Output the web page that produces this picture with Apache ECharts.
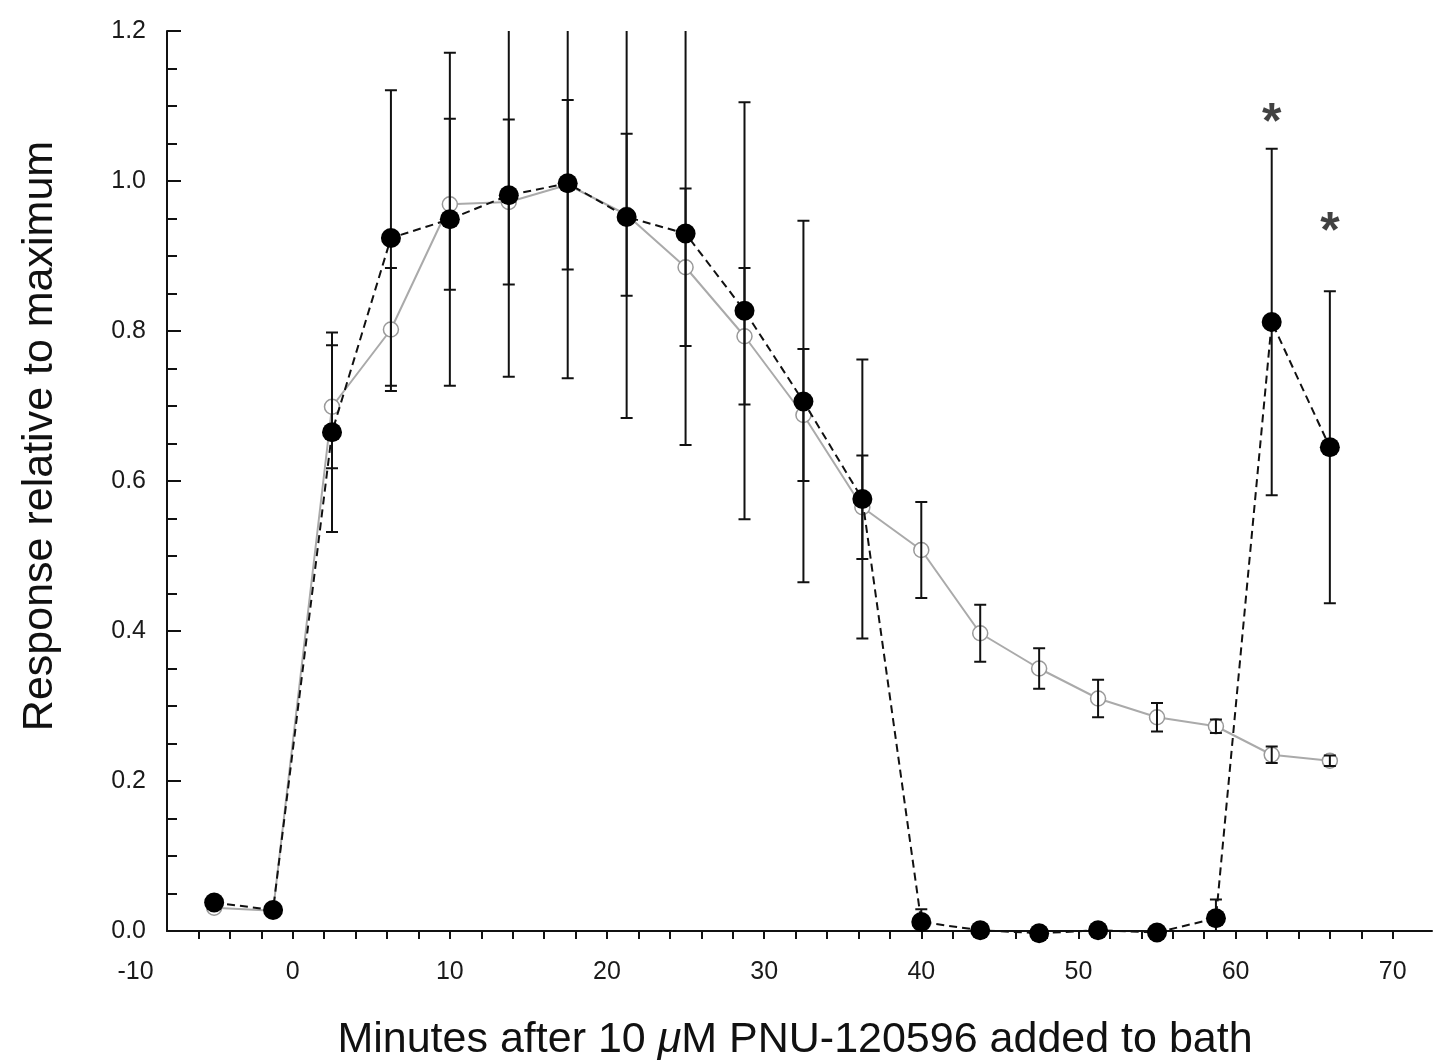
<!DOCTYPE html>
<html>
<head>
<meta charset="utf-8">
<script src="https://cdn.jsdelivr.net/npm/echarts@6/dist/echarts.min.js"></script>
<style>
html,body{margin:0;padding:0;background:#fff;}
#chart{width:1434px;height:1062px;}
</style>
</head>
<body>
<div id="chart"></div>
<script>
// ---- data ----
var minutes = [-5, -1.25, 2.5, 6.25, 10, 13.75, 17.5, 21.25, 25, 28.75, 32.5, 36.25, 40, 43.75, 47.5, 51.25, 55, 58.75, 62.3, 66.0];
var filledMean = [0.038, 0.028, 0.665, 0.924, 0.949, 0.981, 0.997, 0.952, 0.930, 0.827, 0.706, 0.576, 0.012, 0.001, -0.003, 0.001, -0.002, 0.017, 0.812, 0.645];
var filledErr  = [0, 0, 0.133, 0.197, 0.222, 0.242, 0.260, 0.268, 0.282, 0.278, 0.241, 0.186, 0.017, 0, 0, 0, 0, 0.025, 0.231, 0.208];
var openMean = [0.031, 0.027, 0.699, 0.802, 0.969, 0.972, 0.995, 0.955, 0.885, 0.793, 0.688, 0.565, 0.508, 0.397, 0.350, 0.310, 0.285, 0.273, 0.235, 0.227];
var openErr  = [0, 0, 0.082, 0.082, 0.114, 0.110, 0.113, 0.108, 0.105, 0.091, 0.088, 0.069, 0.064, 0.038, 0.027, 0.025, 0.019, 0.009, 0.011, 0.007];
var starX = [62.3, 66.0];
var starY = [1.09, 0.945];
var xTickValues = [-6, -4, -2, 0, 2, 4, 6, 8, 10, 12, 14, 16, 18, 20, 22, 24, 26, 28, 30, 32, 34, 36, 38, 40, 42, 44, 46, 48, 50, 52, 54, 56, 58, 60, 62, 64, 66, 68, 70];
var xLabelValues = [-10, 0, 10, 20, 30, 40, 50, 60, 70];
var yLabels = ['0.0', '0.2', '0.4', '0.6', '0.8', '1.0', '1.2'];

// ---- derived tables ----
var filledPts = minutes.map(function (x, i) { return [x, filledMean[i]]; });
var openPts = minutes.map(function (x, i) { return [x, openMean[i]]; });
var filledBars = minutes.map(function (x, i) { return [x, filledMean[i], filledErr[i]]; });
var openBars = minutes.map(function (x, i) { return [x, openMean[i], openErr[i]]; });
var stars = starX.map(function (x, i) { return [x, starY[i]]; });

var FONT = '"Liberation Sans", Arial, Helvetica, sans-serif';

function renderErr(params, api) {
  var x = api.value(0), m = api.value(1), e = api.value(2);
  if (!e) return null;
  var top = api.coord([x, m + e]);
  var bot = api.coord([x, m - e]);
  var hw = 6;
  var st = { stroke: '#111', lineWidth: 2 };
  return {
    type: 'group',
    children: [
      { type: 'line', shape: { x1: top[0], y1: top[1], x2: bot[0], y2: bot[1] }, style: st },
      { type: 'line', shape: { x1: top[0] - hw, y1: top[1], x2: top[0] + hw, y2: top[1] }, style: st },
      { type: 'line', shape: { x1: bot[0] - hw, y1: bot[1], x2: bot[0] + hw, y2: bot[1] }, style: st }
    ]
  };
}

var chart = echarts.init(document.getElementById('chart'), null, { renderer: 'canvas' });
var option = {
  animation: false,
  backgroundColor: '#fff',
  grid: [
    { left: 167, right: 2, top: 31, bottom: 131 },
    { left: 135.57, right: 2, top: 31, bottom: 131 }
  ],
  xAxis: [
    {
      type: 'value', gridIndex: 0, min: -8, max: 72.5,
      axisLine: { show: true, onZero: false, lineStyle: { color: '#111', width: 2 } },
      axisTick: { show: true, inside: false, length: 8, lineStyle: { color: '#111', width: 2 }, customValues: xTickValues },
      axisLabel: { show: false },
      splitLine: { show: false }
    },
    {
      type: 'value', gridIndex: 1, min: -10, max: 72.5,
      axisLine: { show: false },
      axisTick: { show: false },
      axisLabel: { show: true, customValues: xLabelValues, fontSize: 25, color: '#1a1a1a', fontFamily: FONT, margin: 29 },
      splitLine: { show: false }
    }
  ],
  yAxis: [
    {
      type: 'value', gridIndex: 0, min: 0, max: 1.2, interval: 0.2,
      axisLine: { show: true, onZero: false, lineStyle: { color: '#111', width: 2 } },
      axisTick: { show: true, inside: true, length: 14, lineStyle: { color: '#111', width: 2 } },
      minorTick: { show: true, splitNumber: 4, length: 10, lineStyle: { color: '#111', width: 2 } },
      axisLabel: {
        show: true, fontSize: 25, color: '#1a1a1a', fontFamily: FONT, margin: 21,
        formatter: function (v) { return yLabels[Math.round(v / 0.2)]; }
      },
      splitLine: { show: false }
    },
    { type: 'value', gridIndex: 1, min: 0, max: 1.2, show: false }
  ],
  series: [
    {
      type: 'line', xAxisIndex: 0, yAxisIndex: 0, data: openPts, z: 2, clip: false,
      symbol: 'circle', symbolSize: 15,
      lineStyle: { color: '#aaa', width: 2 },
      itemStyle: { color: '#fff', borderColor: '#999', borderWidth: 1.5 }
    },
    {
      type: 'custom', xAxisIndex: 0, yAxisIndex: 0, data: openBars, z: 3, clip: true,
      renderItem: renderErr
    },
    {
      type: 'custom', xAxisIndex: 0, yAxisIndex: 0, data: filledBars, z: 3, clip: true,
      renderItem: renderErr
    },
    {
      type: 'line', xAxisIndex: 0, yAxisIndex: 0, data: filledPts, z: 4, clip: false,
      symbol: 'circle', symbolSize: 20,
      lineStyle: { color: '#111', width: 2, type: [8, 5] },
      itemStyle: { color: '#000', borderColor: '#000', borderWidth: 0 }
    },
    {
      type: 'scatter', xAxisIndex: 0, yAxisIndex: 0, data: stars, z: 5,
      symbol: 'circle', symbolSize: 1, itemStyle: { color: 'rgba(0,0,0,0)' },
      label: {
        show: true, position: 'inside', formatter: '*', offset: [0, 11],
        fontSize: 50, fontWeight: 'bold', color: '#111', fontFamily: FONT
      }
    }
  ],
  graphic: [
    {
      type: 'text', x: 40, y: 436, rotation: Math.PI / 2,
      style: {
        text: 'Response relative to maximum', font: '43px ' + FONT, fill: '#111',
        textAlign: 'center', textVerticalAlign: 'middle'
      }
    },
    {
      type: 'text', x: 795, y: 1040,
      style: {
        text: '{n|Minutes after 10 }{mu|\u03bc}{n|M PNU-120596 added to bath}',
        textAlign: 'center', textVerticalAlign: 'middle',
        rich: {
          n: { fontSize: 43, fontFamily: FONT, fill: '#111' },
          mu: { fontSize: 43, fontFamily: FONT, fontStyle: 'italic', fill: '#111' }
        }
      }
    }
  ]
};
chart.setOption(option);
</script>
</body>
</html>
